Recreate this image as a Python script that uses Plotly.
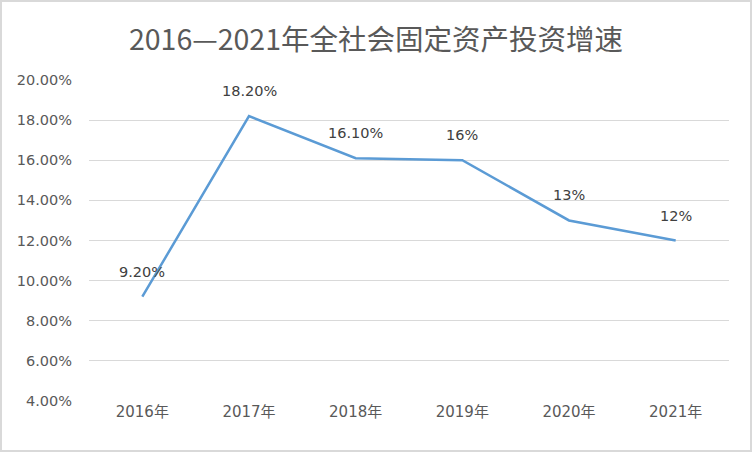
import plotly.graph_objects as go

# Data
years = ["2016年", "2017年", "2018年", "2019年", "2020年", "2021年"]
growth = [9.2, 18.2, 16.1, 16.0, 13.0, 12.0]
labels = ["9.20%", "18.20%", "16.10%", "16%", "13%", "12%"]

W, H = 752, 452
ml, mr, mt, mb = 89, 23, 80, 51
pw, ph = W - ml - mr, H - mt - mb
FONT = "DejaVu Sans, Noto Sans CJK SC"

fig = go.Figure()
fig.add_trace(go.Scatter(
    x=years,
    y=[v / 100 for v in growth],
    mode="lines",
    line=dict(color="#5B9BD5", width=2.5),
    hoverinfo="skip",
))

# data labels sit a bit higher than plotly's "top center"
for yr, v, lab in zip(years, growth, labels):
    fig.add_annotation(
        x=yr, y=v / 100, text=lab, showarrow=False,
        yanchor="middle", yshift=25,
        font=dict(family=FONT, size=14.5, color="#404040"),
    )

# light grey frame around the whole chart
fig.add_shape(
    type="rect", xref="paper", yref="paper",
    x0=(-ml + 1) / pw, x1=1 + (mr - 1) / pw,
    y0=(-mb + 1) / ph, y1=1 + (mt - 1) / ph,
    line=dict(color="#D9D9D9", width=2), layer="below",
)

fig.update_layout(
    width=W, height=H,
    margin=dict(l=ml, r=mr, t=mt, b=mb),
    paper_bgcolor="white", plot_bgcolor="white",
    showlegend=False,
    title=dict(
        text="2016—2021年全社会固定资产投资增速",
        x=0.5, xref="container", xanchor="center", y=1 - 40 / H, yanchor="middle",
        font=dict(family="Noto Sans CJK SC", size=28.5, color="#595959"),
    ),
    font=dict(family=FONT, size=14.5, color="#595959"),
)
fig.update_xaxes(
    showgrid=False, showline=False, zeroline=False, ticks="",
    tickfont=dict(family=FONT, size=15, color="#595959"),
    range=[-0.5, 5.5],
)
fig.update_yaxes(
    range=[0.04, 0.20], dtick=0.02, tickformat=".2%",
    showgrid=True, gridcolor="#D9D9D9", gridwidth=1,
    zeroline=False, showline=False, ticks="", ticklen=0,
    ticklabelstandoff=16,
    tickfont=dict(family=FONT, size=14.5, color="#595959"),
)

fig.write_html(
    "out.html",
    config={"displayModeBar": False},
    post_script="document.body.style.margin='0';",
)
